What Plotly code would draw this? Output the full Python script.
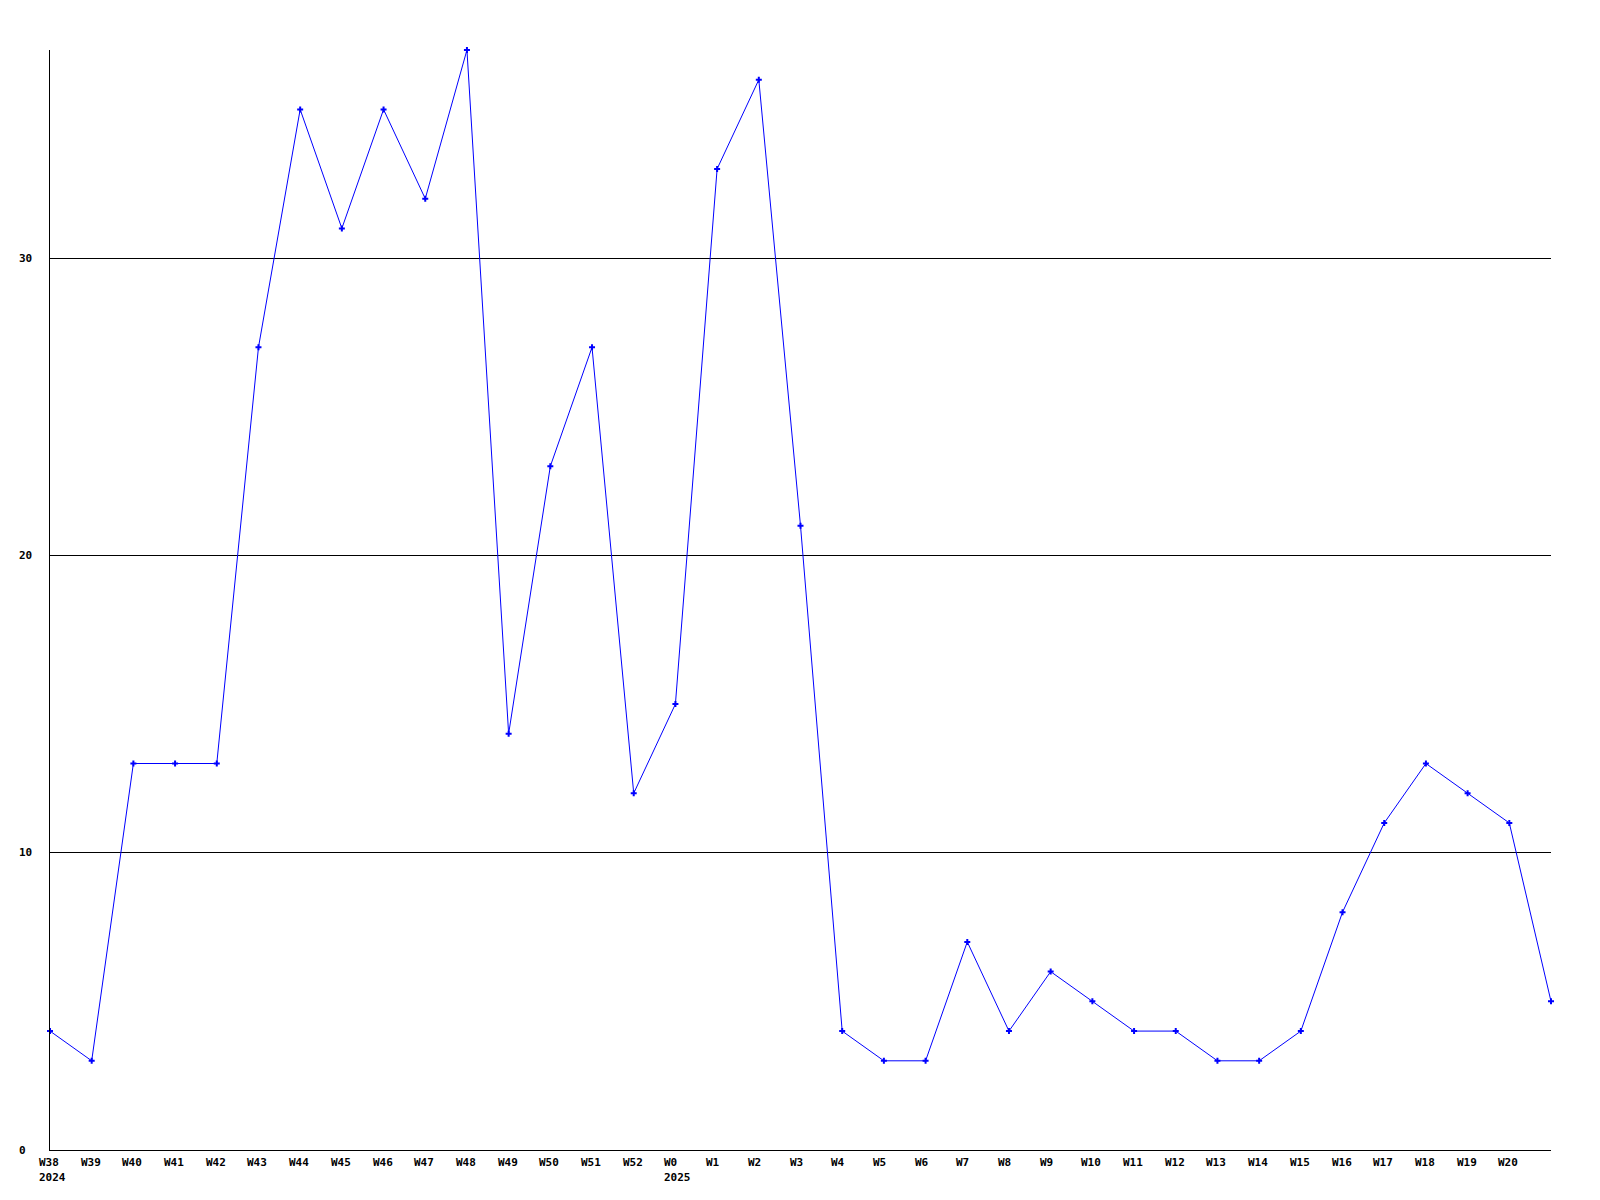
import plotly.graph_objects as go

weeks = ["W38", "W39", "W40", "W41", "W42", "W43", "W44", "W45", "W46", "W47",
         "W48", "W49", "W50", "W51", "W52", "W0", "W1", "W2", "W3", "W4",
         "W5", "W6", "W7", "W8", "W9", "W10", "W11", "W12", "W13", "W14",
         "W15", "W16", "W17", "W18", "W19", "W20", "W21"]
values = [4, 3, 13, 13, 13, 27, 35, 31, 35, 32,
          37, 14, 23, 27, 12, 15, 33, 36, 21, 4,
          3, 3, 7, 4, 6, 5, 4, 4, 3, 3,
          4, 8, 11, 13, 12, 11, 5]
tick_labels = weeks[:36]
year_labels = {"W38": "2024", "W0": "2025"}
y_ticks = [0, 10, 20, 30]

FONT = dict(family="DejaVu Sans Mono", size=11, color="black")

fig = go.Figure()
fig.add_trace(go.Scatter(
    x=weeks, y=values, mode="lines+markers",
    line=dict(color="#0000ff", width=1),
    marker=dict(symbol="cross", size=5, color="#0000ff"),
    cliponaxis=False, showlegend=False,
))

annotations = []
for lab in tick_labels:
    annotations.append(dict(x=lab, y=0, xref="x", yref="paper", yanchor="middle",
                            xanchor="left", xshift=-12, yshift=-12, borderpad=0,
                            text="<b>%s</b>" % lab, showarrow=False, font=FONT))
for lab, yr in year_labels.items():
    annotations.append(dict(x=lab, y=0, xref="x", yref="paper", yanchor="middle",
                            xanchor="left", xshift=-12, yshift=-27, borderpad=0,
                            text="<b>%s</b>" % yr, showarrow=False, font=FONT))
for v in y_ticks:
    annotations.append(dict(x=0, y=v, xref="paper", yref="y", yanchor="middle",
                            xanchor="left", xshift=-32, borderpad=0,
                            text="<b>%d</b>" % v, showarrow=False, font=FONT))

fig.update_layout(
    width=1600, height=1200,
    margin=dict(l=42, r=57, t=42, b=58),
    paper_bgcolor="white", plot_bgcolor="white",
    annotations=annotations,
    xaxis=dict(type="category", range=[0, len(weeks) - 1], showgrid=False,
               showticklabels=False, ticks="", showline=True, linecolor="black",
               linewidth=1, zeroline=False, fixedrange=True),
    yaxis=dict(range=[0, 37], tickvals=y_ticks, showticklabels=False, ticks="",
               showgrid=True, gridcolor="black", gridwidth=1, showline=True,
               linecolor="black", linewidth=1, zeroline=False),
)

fig.write_html("out.html")
